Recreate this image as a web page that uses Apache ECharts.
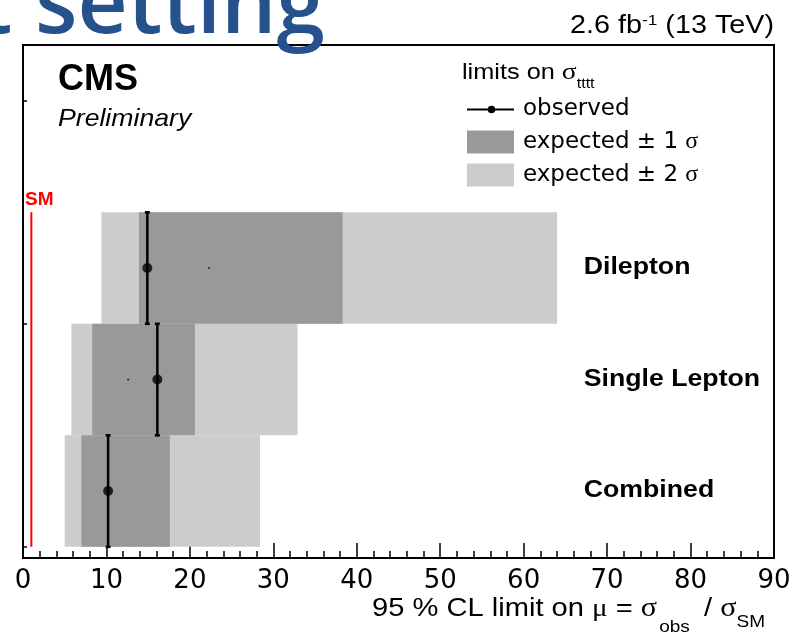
<!DOCTYPE html>
<html><head><meta charset="utf-8">
<script src="https://cdn.jsdelivr.net/npm/echarts@6/dist/echarts.min.js"></script>
<style>html,body{margin:0;padding:0;background:#fff}#c{width:800px;height:634px}</style>
</head><body><div id="c"></div>
<script>
// ---- data ----
const categories = ['Combined', 'Single Lepton', 'Dilepton'];
const observed = [10.2, 16.1, 14.9];
const expectedMedian = [10.2, 12.6, 22.3];
const exp1Low = [7.0, 8.3, 13.9];
const exp1High = [17.6, 20.6, 38.3];
const exp2Low = [5.0, 5.8, 9.4];
const exp2High = [28.4, 32.9, 64.0];
const smValue = 1;
const xMin = 0, xMax = 90, xStep = 10;
const yTickValues = [0, 2, 4];

// ---- helpers ----
const SANS = '"Liberation Sans"';
const SERIF = '"Liberation Serif"';
const WIDE = 1.15;
const mctx = document.createElement('canvas').getContext('2d');
function fontStr(p) { return (p.style || 'normal') + ' ' + (p.weight || 'normal') + ' ' + p.size + 'px ' + (p.family || SANS); }
function runText(parts, x, baseline, align, color) {
  parts.forEach(p => { mctx.font = fontStr(p); p.sx = p.sx || 1; p.w = mctx.measureText(p.t).width * p.sx + (p.gap || 0); });
  const total = parts.reduce((a, p) => a + p.w, 0);
  let cx = align === 'right' ? x - total : x;
  return parts.map(p => {
    const el = { type: 'text', x: cx, y: baseline + (p.dy || 0) - 0.3465 * p.size, scaleX: p.sx, silent: true,
      style: { text: p.t, font: fontStr(p), fill: p.color || color || '#000', align: 'left', verticalAlign: 'middle' } };
    cx += p.w; return el;
  });
}

// title fragment
const titleFam = '"Open Sans"';
mctx.font = '600 100px ' + titleFam;
const titleSize = 290 / mctx.measureText('setting').width * 100;
mctx.font = '600 ' + titleSize + 'px ' + titleFam;
const titleX = 35 - mctx.measureText('t ').width;

const AX = 1.12;
const graphics = [].concat(
  runText([{ t: 't setting', size: titleSize, weight: 600, family: titleFam, color: '#25528c' }], titleX, 38, 'left'),
  runText([{ t: '2.6 fb', size: 25, sx: WIDE }, { t: '-1', size: 15, dy: -9, sx: WIDE }, { t: ' (13 TeV)', size: 25, sx: WIDE }], 774, 35, 'right'),
  runText([{ t: 'CMS', size: 36, weight: 'bold' }], 58, 93, 'left'),
  runText([{ t: 'Preliminary', size: 24, style: 'italic', sx: 1.11 }], 58, 128, 'left'),
  runText([{ t: 'limits on ', size: 22, sx: WIDE }, { t: 'σ', size: 24, family: SERIF, sx: WIDE }, { t: 'tttt', size: 14, dy: 8, sx: WIDE }], 462, 81, 'left'),
  runText([{ t: '95 % CL limit on ', size: 26, sx: AX }, { t: 'μ', size: 26, family: SERIF, sx: AX }, { t: ' = ', size: 26, sx: AX },
           { t: 'σ', size: 27, family: SERIF, gap: 2, sx: AX }, { t: 'obs', size: 17, dy: 15, gap: 6, sx: AX }, { t: ' / ', size: 26, sx: AX },
           { t: 'σ', size: 27, family: SERIF, sx: AX }, { t: 'SM', size: 17, dy: 10, sx: AX }], 765, 618, 'right')
);

const obsIcon = 'path://M0,0M47,23M0,10.5L47,10.5L47,12.5L0,12.5ZM28.3,11.5A3.8,3.8,0,1,1,20.7,11.5A3.8,3.8,0,1,1,28.3,11.5Z';

function bandRender(fill) {
  return function (params, api) {
    const lo = api.value(0), hi = api.value(1), i = api.value(2);
    const p0 = api.coord([lo, i + 1]);
    const p1 = api.coord([hi, i]);
    return { type: 'rect', shape: { x: p0[0], y: p0[1], width: p1[0] - p0[0], height: p1[1] - p0[1] }, style: { fill: fill } };
  };
}

const chart = echarts.init(document.getElementById('c'), null, { renderer: 'canvas' });
chart.setOption({
  animation: false,
  backgroundColor: '#fff',
  textStyle: { fontFamily: SANS },
  grid: { left: 23, right: 26, top: 45, bottom: 76, show: true, borderColor: '#000', borderWidth: 2, backgroundColor: 'transparent' },
  xAxis: {
    type: 'value', min: xMin, max: xMax, interval: xStep,
    axisLine: { show: true, onZero: false, lineStyle: { color: '#000', width: 2 } },
    axisTick: { show: true, inside: true, length: 15, lineStyle: { color: '#000', width: 1.5 } },
    minorTick: { show: true, splitNumber: 5, length: 7, lineStyle: { color: '#000', width: 1.5 } },
    splitLine: { show: false }, minorSplitLine: { show: false },
    axisLabel: { fontSize: 26, color: '#000', margin: 10, fontFamily: '"DejaVu Sans"' }
  },
  yAxis: {
    type: 'value', min: -0.1, max: 4.5,
    axisLine: { show: true, onZero: false, lineStyle: { color: '#000', width: 2 } },
    axisTick: { show: true, inside: true, length: 4, customValues: yTickValues, lineStyle: { color: '#000', width: 1.5 } },
    axisLabel: { show: false }, splitLine: { show: false }
  },
  legend: {
    orient: 'vertical', left: 462, top: 93, itemWidth: 47, itemHeight: 23, itemGap: 9, selectedMode: false,
    data: [{ name: 'observed', icon: obsIcon }, { name: 'expected ± 1 σ', icon: 'rect' }, { name: 'expected ± 2 σ', icon: 'rect' }],
    formatter: n => n.replace('σ', '{s|σ}'),
    textStyle: { fontSize: 23, color: '#000', fontFamily: '"DejaVu Sans"', padding: [0, 0, 0, 4],
      rich: { s: { fontSize: 24, fontFamily: SERIF, color: '#000' } } }
  },
  graphic: graphics,
  series: [
    { type: 'custom', name: 'expected ± 2 σ', itemStyle: { color: '#cccccc' }, encode: { x: [0, 1], y: 2 },
      data: categories.map((c, i) => [exp2Low[i], exp2High[i], i]), renderItem: bandRender('#cccccc'), z: 1 },
    { type: 'custom', name: 'expected ± 1 σ', itemStyle: { color: '#999999' }, encode: { x: [0, 1], y: 2 },
      data: categories.map((c, i) => [exp1Low[i], exp1High[i], i]), renderItem: bandRender('#999999'), z: 2 },
    { type: 'scatter', name: 'expected median', symbol: 'rect', symbolSize: [2, 1.5], itemStyle: { color: '#000' }, z: 3,
      data: categories.map((c, i) => [expectedMedian[i], i + 0.5]) },
    { type: 'custom', name: 'observed', itemStyle: { color: '#000' }, z: 4, encode: { x: 0, y: 1 },
      data: categories.map((c, i) => [observed[i], i]),
      renderItem: function (params, api) {
        const x = api.value(0), i = api.value(1);
        const a = api.coord([x, i]), b = api.coord([x, i + 1]);
        const ls = { stroke: '#000', lineWidth: 2.5 };
        return { type: 'group', children: [
          { type: 'line', shape: { x1: a[0], y1: a[1], x2: b[0], y2: b[1] }, style: ls },
          { type: 'line', shape: { x1: a[0] - 2.5, y1: a[1], x2: a[0] + 2.5, y2: a[1] }, style: ls },
          { type: 'line', shape: { x1: b[0] - 2.5, y1: b[1], x2: b[0] + 2.5, y2: b[1] }, style: ls }
        ] };
      } },
    { type: 'scatter', name: 'observed', symbol: 'circle', symbolSize: 10, itemStyle: { color: '#000' }, z: 5,
      data: categories.map((c, i) => [observed[i], i + 0.5]) },
    { type: 'line', name: 'SM', z: 6, showSymbol: true, symbol: 'circle', symbolSize: 0, lineStyle: { color: '#ff0000', width: 2 }, itemStyle: { color: '#ff0000' },
      data: [[smValue, 0], { value: [smValue, categories.length],
        label: { show: true, position: 'top', distance: 3, offset: [8, 0], formatter: 'SM', color: '#ff0000', fontWeight: 'bold', fontSize: 19, fontFamily: SANS } }] },
    { type: 'custom', name: 'labels', z: 7, encode: { x: 0, y: 1 },
      data: categories.map((c, i) => [0, i]),
      renderItem: function (params, api) {
        const i = api.value(1);
        const p = api.coord([67.2, i + 0.5]);
        return { type: 'text', x: p[0], y: p[1], scaleX: 1.16, style: { text: categories[params.dataIndex], font: 'bold 23px ' + SANS, fill: '#000', align: 'left', verticalAlign: 'middle' } };
      } }
  ]
});
</script></body></html>
